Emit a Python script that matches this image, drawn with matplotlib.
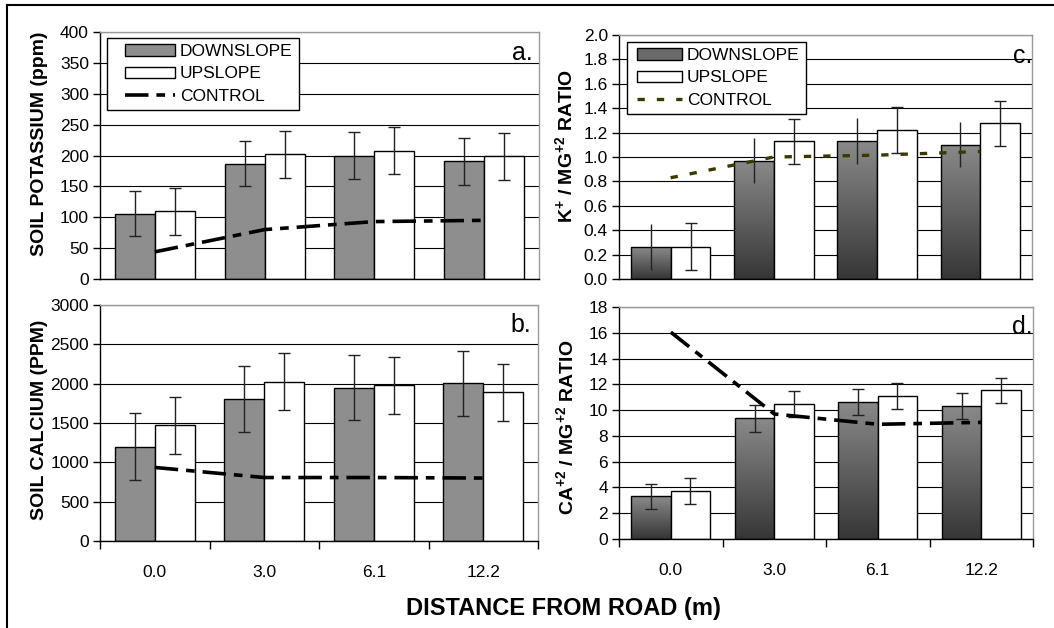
import matplotlib
matplotlib.use('Agg')
import matplotlib.pyplot as plt
import numpy as np
from matplotlib.lines import Line2D
from matplotlib.patches import Patch, Rectangle
from matplotlib.legend_handler import HandlerPatch, HandlerLine2D

plt.rcParams['font.family'] = ['Liberation Sans', 'DejaVu Sans']
plt.rcParams['mathtext.fontset'] = 'custom'
plt.rcParams['mathtext.rm'] = 'Liberation Sans:bold'
plt.rcParams['mathtext.bf'] = 'Liberation Sans:bold'
plt.rcParams['mathtext.default'] = 'bf'

distances = ['0.0', '3.0', '6.1', '12.2']
series_names = ['DOWNSLOPE', 'UPSLOPE', 'CONTROL']

k_down = [106, 187, 200, 191]
k_down_err = [37, 37, 38, 38]
k_up = [110, 202, 208, 199]
k_up_err = [38, 38, 38, 38]
k_control = [44, 80, 93, 95]

ca_down = [1200, 1800, 1950, 2005]
ca_down_err = [423, 420, 417, 412]
ca_up = [1470, 2025, 1980, 1888]
ca_up_err = [362, 362, 361, 361]
ca_control = [935, 807, 807, 800]

kmg_down = [0.26, 0.97, 1.13, 1.10]
kmg_down_err = [0.19, 0.185, 0.187, 0.186]
kmg_up = [0.265, 1.13, 1.22, 1.275]
kmg_up_err = [0.19, 0.185, 0.19, 0.186]
kmg_control = [0.83, 1.00, 1.015, 1.045]

camg_down = [3.3, 9.35, 10.65, 10.3]
camg_down_err = [1.0, 1.03, 1.02, 1.02]
camg_up = [3.75, 10.5, 11.1, 11.55]
camg_up_err = [1.0, 1.0, 1.0, 0.97]
camg_control = [16.05, 9.7, 8.9, 9.05]

W, H = 1054, 628
fig = plt.figure(figsize=(W / 100, H / 100), dpi=100)


def px_rect(l, t, r, b):
    return [l / W, 1 - b / H, (r - l) / W, (b - t) / H]


TICK_FS = 12.5
LABEL_FS = 14
LEG_FS = 12.5


def right_rect(hw):
    def f(legend, orig_handle, xdescent, ydescent, width, height, fontsize):
        return Rectangle((width - hw - xdescent, -ydescent), hw, height)
    return f


class RightLine(HandlerLine2D):
    def __init__(self, hw, **kw):
        super().__init__(**kw)
        self.hw = hw

    def get_xdata(self, legend, xdescent, ydescent, width, height, fontsize):
        xd = np.array([width - self.hw - xdescent, width - xdescent])
        return xd, xd


def make_panel(rect, down, down_err, up, up_err, ctrl, ymax, ystep, yfmt,
               bw, gradient, ctrl_style, letter, ylabel, ylabel_xy,
               show_x, legend_cfg=None, down_caps=True):
    ax = fig.add_axes(px_rect(*rect))
    x = np.arange(len(distances))
    downc = '#8e8e8e'
    bars_d = ax.bar(x - bw / 2, down, bw, color=downc, edgecolor='black',
                    linewidth=1, zorder=2)
    if gradient:
        cmap = matplotlib.colors.LinearSegmentedColormap.from_list(
            'g', ['#363636', '#8a8a8a'])
        grad = np.linspace(0, 1, 256).reshape(-1, 1)
        for b in bars_d:
            bx, by = b.get_x(), b.get_y()
            bwid, bh = b.get_width(), b.get_height()
            im = ax.imshow(grad, extent=[bx, bx + bwid, by, by + bh],
                           origin='lower', cmap=cmap, aspect='auto', zorder=2.1)
            im.set_clip_path(b)
            b.set_facecolor('none')
            b.set_zorder(2.2)
    ax.bar(x + bw / 2, up, bw, color='white', edgecolor='black',
           linewidth=1, zorder=2.2)
    ax.errorbar(x - bw / 2, down, yerr=down_err, fmt='none', ecolor='#222222',
                elinewidth=1, capsize=4 if down_caps else 0, capthick=1, zorder=3)
    ax.errorbar(x + bw / 2, up, yerr=up_err, fmt='none', ecolor='#222222',
                elinewidth=1, capsize=4, capthick=1, zorder=3)
    ax.plot(x, ctrl, **ctrl_style, zorder=4)

    ax.set_xlim(-0.5, len(distances) - 0.5)
    ax.set_ylim(0, ymax)
    yt = np.arange(0, ymax + ystep / 2, ystep)
    ax.set_yticks(yt)
    ax.set_yticklabels([yfmt.format(v) for v in yt], fontsize=TICK_FS)
    ax.tick_params(axis='y', direction='out', length=5, width=1, pad=3)
    ax.yaxis.grid(True, color='black', linewidth=0.8, zorder=0)
    ax.set_axisbelow(True)
    for s in ['top', 'right']:
        ax.spines[s].set_color('#9a9a9a')
        ax.spines[s].set_linewidth(1)
    for s in ['left', 'bottom']:
        ax.spines[s].set_color('black')
        ax.spines[s].set_linewidth(1)

    ax.set_xticks(np.arange(-0.5, len(distances), 1.0))
    ax.set_xticklabels([])
    ax.set_xticks(x, minor=True)
    if show_x:
        ax.set_xticklabels(distances, minor=True, fontsize=TICK_FS)
        ax.tick_params(axis='x', which='major', direction='out', length=6, width=1)
        ax.tick_params(axis='x', which='minor', length=0, pad=17)
    else:
        ax.tick_params(axis='x', which='both', length=0)

    ax.text(0.985 if letter in ('a.', 'b.') else 1.0, 0.965, letter,
            transform=ax.transAxes, ha='right', va='top', fontsize=18)

    ax.set_ylabel(ylabel, fontsize=LABEL_FS, fontweight='bold')
    ax.yaxis.set_label_coords(ylabel_xy[0] / W, 1 - ylabel_xy[1] / H,
                              transform=fig.transFigure)

    if legend_cfg is not None:
        l, t, hlen, hw = legend_cfg
        h_down = Patch(facecolor='#6a6a6a' if gradient else downc,
                       edgecolor='black', linewidth=1)
        h_up = Patch(facecolor='white', edgecolor='black', linewidth=1)
        h_ctrl = Line2D([0], [0], **ctrl_style)
        hmap = {h_down: HandlerPatch(patch_func=right_rect(hw)),
                h_up: HandlerPatch(patch_func=right_rect(hw)),
                h_ctrl: RightLine(hw)}
        fx, fy = ax.transAxes.inverted().transform(
            fig.transFigure.transform((l / W, 1 - t / H)))
        leg = ax.legend([h_down, h_up, h_ctrl], series_names, loc='upper left',
                        bbox_to_anchor=(fx, fy), bbox_transform=ax.transAxes,
                        handler_map=hmap,
                        prop={'size': LEG_FS}, frameon=True, fancybox=False,
                        edgecolor='black', framealpha=1,
                        handlelength=hlen, handleheight=0.62,
                        labelspacing=0.42, borderpad=0.35, handletextpad=0.3,
                        borderaxespad=0)
        leg.get_frame().set_linewidth(1)
        leg.set_zorder(5)
    return ax


dashdot = dict(color='black', linewidth=2.6, linestyle=(0, (6.5, 2.2, 2.4, 2.2)))
dotted = dict(color='#3a3a00', linewidth=2.4, linestyle=(0, (2.2, 3.6)))

make_panel((100, 32, 539, 279), k_down, k_down_err, k_up, k_up_err, k_control,
           400, 50, '{:.0f}', 0.365, False, dashdot, 'a.',
           'SOIL POTASSIUM (ppm)', (48, 144), False,
           legend_cfg=(107, 38, 3.55, 35.5))
make_panel((100, 305, 538, 541), ca_down, ca_down_err, ca_up, ca_up_err, ca_control,
           3000, 500, '{:.0f}', 0.365, False, dashdot, 'b.',
           'SOIL CALCIUM (PPM)', (48, 420), True)
make_panel((619, 35, 1032, 279), kmg_down, kmg_down_err, kmg_up, kmg_up_err, kmg_control,
           2.0, 0.2, '{:.1f}', 0.385, True, dotted, 'c.',
           r'K$^{+}$ / MG$^{+2}$ RATIO', (576, 146), False,
           legend_cfg=(627, 42, 2.8, 32.5), down_caps=False)
make_panel((619, 307, 1033, 539), camg_down, camg_down_err, camg_up, camg_up_err, camg_control,
           18, 2, '{:.0f}', 0.38, True, dashdot, 'd.',
           r'CA$^{+2}$ / MG$^{+2}$ RATIO', (577, 427), True)

fig.text(563 / W, 1 - 608 / H, 'DISTANCE FROM ROAD (m)', ha='center', va='center',
         fontsize=17, fontweight='bold')

# outer frame (top and left edges)
fig.add_artist(Line2D([7 / W, 1.0], [1 - 5 / H, 1 - 5 / H], transform=fig.transFigure,
                      color='black', linewidth=1.5))
fig.add_artist(Line2D([7 / W, 7 / W], [0, 1 - 5 / H], transform=fig.transFigure,
                      color='black', linewidth=1.5))

fig.savefig('out.png', dpi=100)
